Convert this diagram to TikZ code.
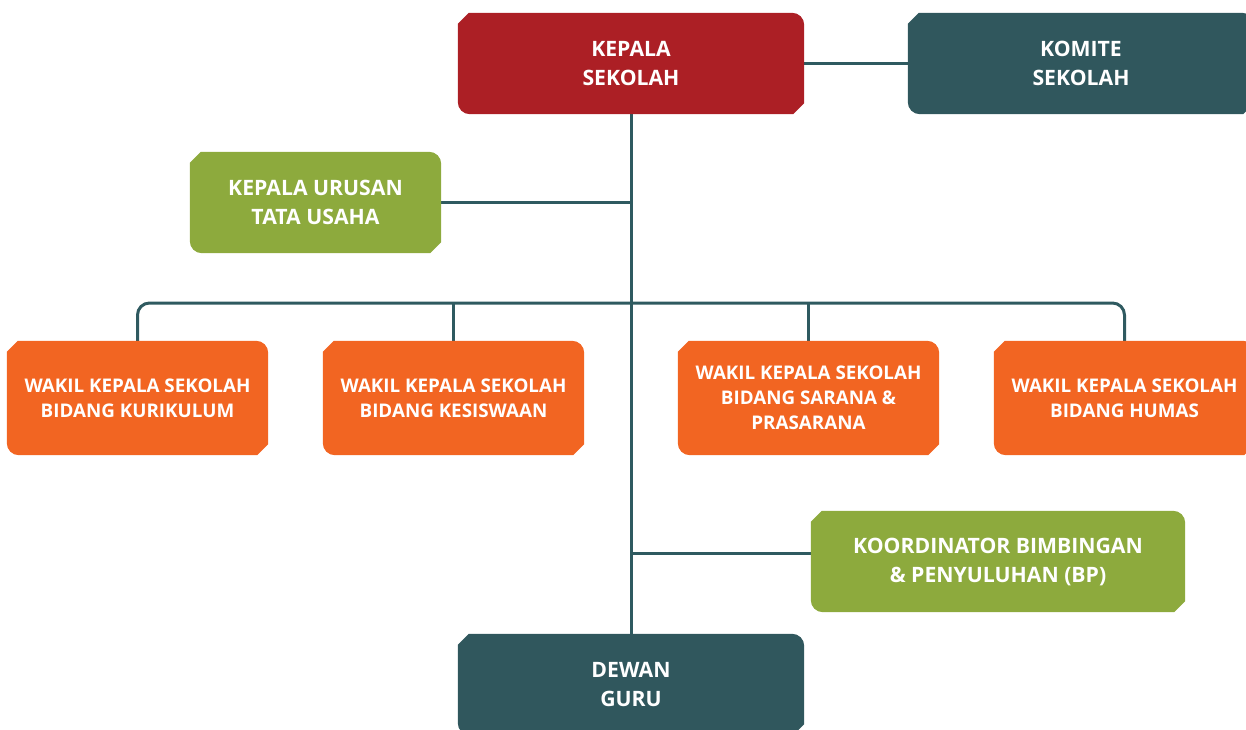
\documentclass[tikz,border=0pt]{standalone}
\usepackage{fontspec}
\setmainfont{Open Sans}
\pgfdeclarelayer{background}
\pgfsetlayers{background,main}
\definecolor{headred}{HTML}{AC1F25}
\definecolor{deepteal}{HTML}{30575D}
\definecolor{olivegreen}{HTML}{8DAA3D}
\definecolor{brightorange}{HTML}{F26522}
\definecolor{linkteal}{HTML}{2F5A60}
% box outline: clipped top-left and bottom-right, rounded top-right and bottom-left
\newcommand\orgshape[2]{%
  \fill[#2] ([xshift=11pt]#1.north west) -- ([xshift=-12pt]#1.north east)
    .. controls ([xshift=-5.4pt]#1.north east) and ([yshift=-5.4pt]#1.north east) .. ([yshift=-12pt]#1.north east)
    -- ([yshift=11pt]#1.south east) -- ([xshift=-11pt]#1.south east)
    -- ([xshift=12pt]#1.south west)
    .. controls ([xshift=5.4pt]#1.south west) and ([yshift=5.4pt]#1.south west) .. ([yshift=12pt]#1.south west)
    -- ([yshift=-11pt]#1.north west) -- cycle;}
\tikzset{
  orgbox/.style={draw=none, inner sep=0pt, text=white, align=center,
    font=\fontsize{21.2}{29}\selectfont\bfseries},
  bigbox/.style={orgbox, minimum width=346pt, minimum height=101pt},
  sidebox/.style={orgbox, minimum height=101pt},
  wakilbox/.style={orgbox, minimum width=261pt, minimum height=114pt,
    font=\fontsize{18.8}{25}\selectfont\bfseries},
  link/.style={draw=linkteal, line width=3pt}
}
\begin{document}
\begin{tikzpicture}[x=1pt, y=-1pt]
\useasboundingbox (0,0) rectangle (1246,729);

\node[bigbox] (ks) at (631,63.5) {KEPALA\\SEKOLAH};
\node[bigbox] (komite) at (1081,63.5) {KOMITE\\SEKOLAH};
\node[sidebox, minimum width=251pt] (tu) at (315.5,202.5) {KEPALA URUSAN\\TATA USAHA};
\node[wakilbox] (w1) at (137.5,398) {WAKIL KEPALA SEKOLAH\\BIDANG KURIKULUM};
\node[wakilbox] (w2) at (453.5,398) {WAKIL KEPALA SEKOLAH\\BIDANG KESISWAAN};
\node[wakilbox] (w3) at (808.5,398) {WAKIL KEPALA SEKOLAH\\BIDANG SARANA \&\\PRASARANA};
\node[wakilbox] (w4) at (1124.5,398) {WAKIL KEPALA SEKOLAH\\BIDANG HUMAS};
\node[sidebox, minimum width=374pt] (bp) at (998,561.5) {KOORDINATOR BIMBINGAN\\\& PENYULUHAN (BP)};
\node[bigbox] (dg) at (631,684.5) {DEWAN\\GURU};
\coordinate (bar) at (631,303);

\begin{pgfonlayer}{background}
  \draw[link] (ks.south) -- (dg.north);
  \draw[link] (ks.east) -- (komite.west);
  \draw[link] (tu.east) -- (tu.east -| ks.south);
  \draw[link, rounded corners=12pt] (w1.north) |- (bar) -| (w4.north);
  \draw[link] (w2.north) -- (w2.north |- bar);
  \draw[link] (w3.north) -- (w3.north |- bar);
  \draw[link] ([yshift=8.5pt]bp.west) -- ([yshift=8.5pt]bp.west -| ks.south);
  \orgshape{ks}{headred}
  \orgshape{komite}{deepteal}
  \orgshape{tu}{olivegreen}
  \orgshape{w1}{brightorange}
  \orgshape{w2}{brightorange}
  \orgshape{w3}{brightorange}
  \orgshape{w4}{brightorange}
  \orgshape{bp}{olivegreen}
  \orgshape{dg}{deepteal}
\end{pgfonlayer}
\end{tikzpicture}
\end{document}
